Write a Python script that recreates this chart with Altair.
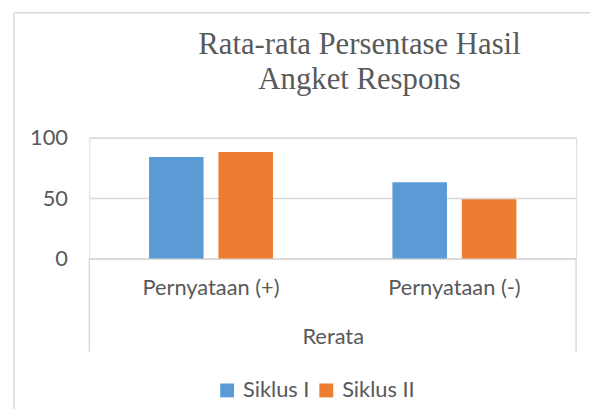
import altair as alt
import pandas as pd

categories = ["Pernyataan (+)", "Pernyataan (-)"]
series = ["Siklus I", "Siklus II"]
siklus1 = [84, 63]
siklus2 = [88, 49]
y_ticks = [0, 50, 100]
colors = ["#5B9BD5", "#ED7D31"]
title_text = "Rata-rata Persentase Hasil\nAngket Respons"
group_label = "Rerata"

rows = []
for c, v1, v2 in zip(categories, siklus1, siklus2):
    rows.append({"kategori": c, "seri": series[0], "nilai": v1})
    rows.append({"kategori": c, "seri": series[1], "nilai": v2})
df = pd.DataFrame(rows)

W, H = 491, 122
FONT = "Lato"
FS = 22
GREY = "#595959"
LINE = "#d9d9d9"

bars = alt.Chart(df).mark_bar().encode(
    x=alt.X("kategori:N", sort=categories,
            scale=alt.Scale(paddingInner=0, paddingOuter=0),
            axis=alt.Axis(title=group_label, labelAngle=0, ticks=False,
                          domainColor=LINE, domainWidth=1.5,
                          labelFont=FONT, labelFontSize=FS, labelColor=GREY,
                          labelPadding=19,
                          titleFont=FONT, titleFontSize=FS, titleColor=GREY,
                          titleFontWeight="normal", titlePadding=29)),
    xOffset=alt.XOffset("seri:N", sort=series,
                        scale=alt.Scale(paddingInner=0.214, paddingOuter=0.86)),
    y=alt.Y("nilai:Q", scale=alt.Scale(domain=[0, 100], nice=False),
            axis=alt.Axis(values=y_ticks, title=None, domain=False, ticks=False,
                          grid=True, gridColor=LINE, gridWidth=1.5,
                          labelFont=FONT, labelFontSize=FS, labelColor=GREY,
                          labelPadding=22)),
    color=alt.Color("seri:N", sort=series,
                    scale=alt.Scale(domain=series, range=colors),
                    legend=alt.Legend(title=None, orient="none", direction="horizontal",
                                      legendX=128, legendY=244,
                                      symbolType="square", symbolSize=196,
                                      symbolStrokeWidth=0,
                                      labelFont=FONT, labelFontSize=FS, labelColor=GREY,
                                      labelOffset=5, columnPadding=5)),
)

one = alt.Data(values=[{"t": title_text}])
sep_left = alt.Chart(one).mark_rule(color=LINE, strokeWidth=1.5).encode(
    x=alt.value(0), y=alt.value(H), y2=alt.value(H + 94))
sep_right = alt.Chart(one).mark_rule(color=LINE, strokeWidth=1.5).encode(
    x=alt.value(W), y=alt.value(H), y2=alt.value(H + 94))
border_v = alt.Chart(one).mark_rule(color=LINE, strokeWidth=1.5).encode(
    x=alt.value(-76), y=alt.value(-126), y2=alt.value(300))
border_h = alt.Chart(one).mark_rule(color=LINE, strokeWidth=1.5).encode(
    x=alt.value(-76), x2=alt.value(560), y=alt.value(-126))
title = alt.Chart(one).mark_text(
    font="Liberation Serif", fontSize=31, color=GREY, lineBreak="\n",
    lineHeight=35, align="center", baseline="alphabetic").encode(
    text="t:N", x=alt.value(272.5), y=alt.value(-84))

chart = alt.layer(border_v, border_h, sep_left, sep_right, title, bars).properties(
    width=W, height=H,
    autosize=alt.AutoSizeParams(type="none"),
    padding={"left": 82, "top": 129, "right": 14, "bottom": 150},
).configure_view(stroke=None).configure(background="white")

chart.save("out.html", embed_options={"renderer": "svg", "actions": False})
